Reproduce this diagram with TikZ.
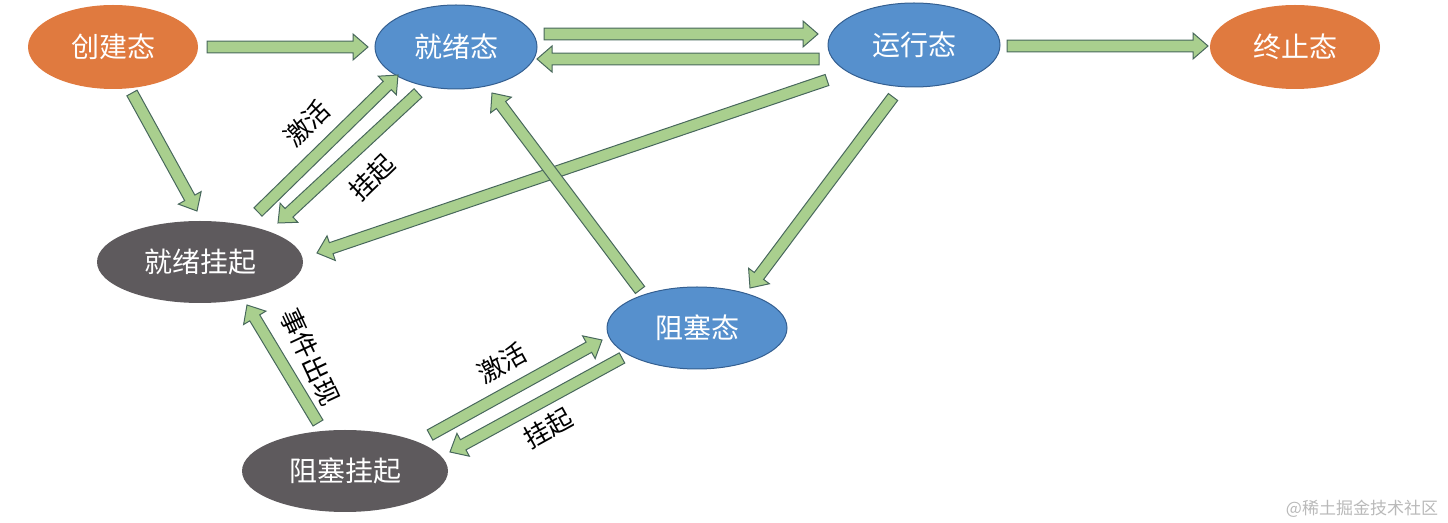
\documentclass[tikz,border=0pt]{standalone}
\usepackage{fontspec}
\usepackage{xcolor}
\usepackage{tikz}
\usetikzlibrary{shapes.geometric,calc}
\newfontfamily\cjk{Noto Sans CJK SC}
\definecolor{stateorange}{RGB}{224,122,63}
\definecolor{stateblue}{RGB}{86,144,205}
\definecolor{stateblueline}{RGB}{52,95,145}
\definecolor{stategray}{RGB}{94,90,93}
\definecolor{arrowgreen}{RGB}{169,207,142}
\definecolor{arrowline}{RGB}{72,104,92}
\definecolor{marklight}{RGB}{185,185,185}

\tikzset{
  state/.style={ellipse,inner sep=0pt,text=white,font=\cjk\fontsize{14}{14}\selectfont},
  endstate/.style={state,fill=stateorange},
  bluestate/.style={state,fill=stateblue,draw=stateblueline,line width=0.5pt},
  graystate/.style={state,fill=stategray},
  blockarrow/.style={fill=arrowgreen,draw=arrowline,line width=0.5pt,line join=miter},
  edgelabel/.style={inner sep=0pt,font=\cjk\fontsize{13}{13}\selectfont}
}
\newcommand{\shaftw}{2.9pt}
\newcommand{\headw}{6.5pt}
\newcommand{\headl}{7.5pt}
% block arrow from #1 to #2
\newcommand{\blockarr}[2]{%
  \path (#1) coordinate (ba-s) (#2) coordinate (ba-e);
  \coordinate (ba-h) at ($(ba-e)!\headl!(ba-s)$);
  \filldraw[blockarrow] ($(ba-s)!\shaftw!90:(ba-e)$) -- ($(ba-h)!\shaftw!90:(ba-e)$)
    -- ($(ba-h)!\headw!90:(ba-e)$) -- (ba-e) -- ($(ba-h)!\headw!-90:(ba-e)$)
    -- ($(ba-h)!\shaftw!-90:(ba-e)$) -- ($(ba-s)!\shaftw!-90:(ba-e)$) -- cycle;
}

\begin{document}
\begin{tikzpicture}[x=0.5pt,y=-0.5pt]
\useasboundingbox (0,0) rectangle (1448,523);
% Draw the states
\node[endstate,minimum width=85pt,minimum height=42pt] (cj) at (113,47) {创建态};
\node[bluestate,minimum width=81pt,minimum height=42pt] (jx) at (456,47) {就绪态};
\node[bluestate,minimum width=86pt,minimum height=42pt] (yx) at (914,45) {运行态};
\node[endstate,minimum width=85pt,minimum height=42pt] (zz) at (1295,47) {终止态};
\node[graystate,minimum width=103pt,minimum height=41pt] (jxgq) at (200,262) {就绪挂起};
\node[bluestate,minimum width=90pt,minimum height=41pt] (zs) at (697,328) {阻塞态};
\node[graystate,minimum width=103pt,minimum height=41pt] (zsgq) at (345,471) {阻塞挂起};
% Draw the top row arrows
\blockarr{$(cj)+(94,0)$}{$(jx)+(-88,0)$}
\blockarr{$(jx)+(88,-13)$}{$(yx)+(-96,-11)$}
\blockarr{$(yx)+(-95,14)$}{$(jx)+(81,12)$}
\blockarr{$(yx)+(93,1)$}{$(zz)+(-87,-1)$}
% Draw the arrows to the suspended states
\blockarr{$(cj)+(19,46)$}{$(jxgq)+(-3,-51)$}
\blockarr{$(jxgq)+(58,-50)$}{$(jx)+(-58,28)$}
\blockarr{$(jx)+(-38,46)$}{$(jxgq)+(78,-39)$}
\blockarr{$(yx)+(-87,35)$}{$(jxgq)+(117,-9)$}
% Draw the arrows round the blocked state
\blockarr{$(yx)+(-21,52)$}{$(zs)+(53,-40)$}
\blockarr{$(zs)+(-57,-38)$}{$(jx)+(36,46)$}
\blockarr{$(zsgq)+(-27,-48)$}{$(jxgq)+(47,43)$}
\blockarr{$(zsgq)+(85,-36)$}{$(zs)+(-95,12)$}
\blockarr{$(zs)+(-75,30)$}{$(zsgq)+(105,-19)$}
% Add the arrow labels
\node[edgelabel,rotate=44] (jh1) at (307,123) {激活};
\node[edgelabel,rotate=44] (gq1) at (372,177) {挂起};
\node[edgelabel,rotate=-65] (sj) at (310,357) {事件出现};
\node[edgelabel,rotate=29] (jh2) at (502,363) {激活};
\node[edgelabel,rotate=29] (gq2) at (548,428) {挂起};
% Add the mark in the corner
\node[text=marklight,font=\cjk\fontsize{8.5}{8.5}\selectfont] (mark) at (1362,509) {@稀土掘金技术社区};
\end{tikzpicture}
\end{document}
